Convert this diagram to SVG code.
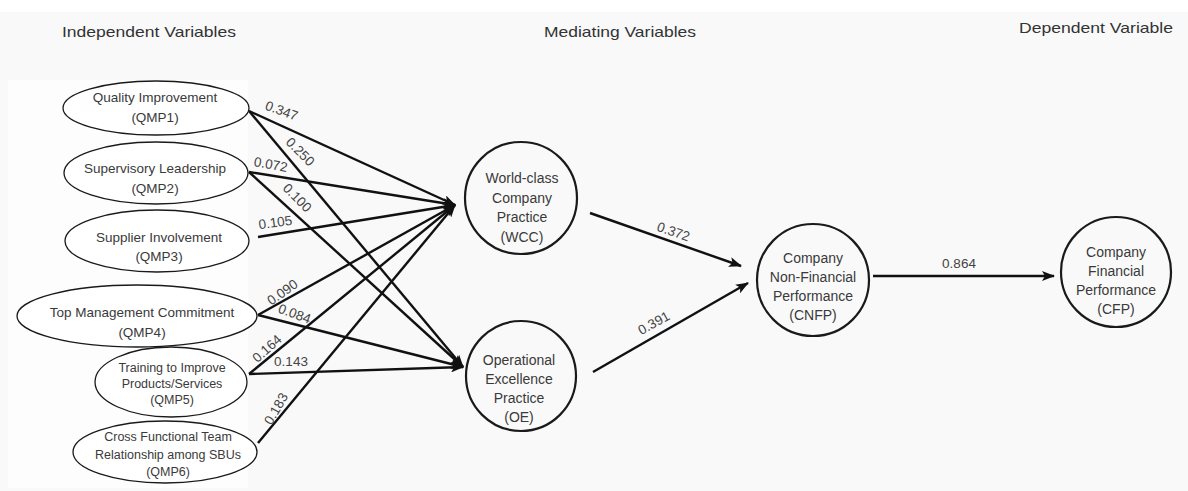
<svg xmlns="http://www.w3.org/2000/svg" width="1188" height="491" viewBox="0 0 1188 491">
<style>
.hdr{font-family:"Liberation Sans",Arial,sans-serif;font-size:15px;fill:#333}
.t{font-family:"Liberation Sans",Arial,sans-serif;font-size:13.5px;fill:#3a3a3a;text-anchor:middle}
.tc{font-family:"Liberation Sans",Arial,sans-serif;font-size:14px;fill:#3a3a3a;text-anchor:middle}
.ts{font-family:"Liberation Sans",Arial,sans-serif;font-size:12.5px;fill:#3a3a3a;text-anchor:middle}
.lbl{font-family:"Liberation Sans",Arial,sans-serif;font-size:13.5px;fill:#444;text-anchor:middle}
.node{fill:#fff;stroke:#1a1a1a;stroke-width:1.3}
.circ{fill:none;stroke:#1a1a1a;stroke-width:2.2}
.edge{stroke:#111;stroke-width:2.4;fill:none;marker-end:url(#ah)}
</style>
<defs>
<marker id="ah" markerUnits="userSpaceOnUse" markerWidth="14" markerHeight="10" refX="12" refY="5" orient="auto">
<path d="M0,0 L13,5 L0,10 L3,5 Z" fill="#111"/>
</marker>
</defs>
<rect width="1188" height="491" fill="#f9f9f9"/>
<rect x="0" y="0" width="1188" height="12" fill="#fff"/>
<rect x="8" y="80" width="240" height="408" fill="#fdfdfd"/>
<text class="hdr" x="62" y="37" textLength="174" lengthAdjust="spacingAndGlyphs">Independent Variables</text>
<text class="hdr" x="544" y="37" textLength="152" lengthAdjust="spacingAndGlyphs">Mediating Variables</text>
<text class="hdr" x="1019" y="33" textLength="154" lengthAdjust="spacingAndGlyphs">Dependent Variable</text>

<g id="connectors">
<line class="edge" x1="249" y1="111" x2="455" y2="205"/>
<line class="edge" x1="249" y1="111" x2="463" y2="367"/>
<line class="edge" x1="249" y1="172" x2="455" y2="205"/>
<line class="edge" x1="249" y1="172" x2="463" y2="367"/>
<line class="edge" x1="258" y1="237" x2="455" y2="205"/>
<line class="edge" x1="258" y1="315" x2="455" y2="205"/>
<line class="edge" x1="258" y1="315" x2="463" y2="367"/>
<line class="edge" x1="249" y1="374" x2="455" y2="205"/>
<line class="edge" x1="249" y1="374" x2="463" y2="367"/>
<line class="edge" x1="258" y1="443" x2="455" y2="205"/>
<line class="edge" x1="590" y1="213" x2="741" y2="266"/>
<line class="edge" x1="593" y1="372" x2="748" y2="283"/>
<line class="edge" x1="873" y1="276" x2="1054" y2="276"/>
<text class="lbl" transform="translate(280,115) rotate(20)">0.347</text>
<text class="lbl" transform="translate(297,155) rotate(45)">0.250</text>
<text class="lbl" transform="translate(270,169) rotate(10)">0.072</text>
<text class="lbl" transform="translate(294,201) rotate(45)">0.100</text>
<text class="lbl" transform="translate(276,227) rotate(-8)">0.105</text>
<text class="lbl" transform="translate(285,296) rotate(-35)">0.090</text>
<text class="lbl" transform="translate(293,318) rotate(20)">0.084</text>
<text class="lbl" transform="translate(270,352) rotate(-42)">0.164</text>
<text class="lbl" transform="translate(291,366)">0.143</text>
<text class="lbl" transform="translate(280,411) rotate(-60)">0.183</text>
<text class="lbl" transform="translate(672,236) rotate(19)">0.372</text>
<text class="lbl" transform="translate(656,327) rotate(-29)">0.391</text>
<text class="lbl" transform="translate(959,268)">0.864</text>
</g>

<g id="qmp1"><ellipse class="node" cx="156" cy="108" rx="93" ry="27"/>
<text class="t" x="155" y="102">Quality Improvement</text><text class="t" x="155" y="122">(QMP1)</text></g>
<g id="qmp2"><ellipse class="node" cx="156" cy="173" rx="92" ry="31"/>
<text class="t" x="155" y="173">Supervisory Leadership</text><text class="t" x="155" y="193">(QMP2)</text></g>
<g id="qmp3"><ellipse class="node" cx="157" cy="241" rx="92" ry="31"/>
<text class="t" x="159" y="242">Supplier Involvement</text><text class="t" x="159" y="261">(QMP3)</text></g>
<g id="qmp4"><ellipse class="node" cx="137" cy="316" rx="120" ry="31"/>
<text class="t" x="142" y="317">Top Management Commitment</text><text class="t" x="142" y="337">(QMP4)</text></g>
<g id="qmp5"><ellipse class="node" cx="171" cy="382" rx="76" ry="35"/>
<text class="ts" x="172" y="372">Training to Improve</text><text class="ts" x="172" y="388">Products/Services</text><text class="ts" x="172" y="404">(QMP5)</text></g>
<g id="qmp6"><ellipse class="node" cx="165" cy="452" rx="92" ry="31"/>
<text class="ts" x="168" y="441">Cross Functional Team</text><text class="ts" x="168" y="459">Relationship among SBUs</text><text class="ts" x="168" y="476">(QMP6)</text></g>

<g id="wcc"><circle class="circ" cx="521" cy="198" r="56"/>
<text class="tc" x="522" y="183">World-class</text><text class="tc" x="522" y="203">Company</text><text class="tc" x="522" y="222">Practice</text><text class="tc" x="522" y="242">(WCC)</text></g>
<g id="oe"><circle class="circ" cx="521" cy="376" r="55"/>
<text class="tc" x="519" y="365">Operational</text><text class="tc" x="519" y="384">Excellence</text><text class="tc" x="519" y="403">Practice</text><text class="tc" x="519" y="422">(OE)</text></g>
<g id="cnfp"><circle class="circ" cx="813" cy="280" r="56"/>
<text class="tc" x="813" y="263">Company</text><text class="tc" x="813" y="282">Non-Financial</text><text class="tc" x="813" y="301">Performance</text><text class="tc" x="813" y="320">(CNFP)</text></g>
<g id="cfp"><circle class="circ" cx="1116" cy="272" r="55"/>
<text class="tc" x="1116" y="257">Company</text><text class="tc" x="1116" y="276">Financial</text><text class="tc" x="1116" y="295">Performance</text><text class="tc" x="1116" y="314">(CFP)</text></g>
</svg>
